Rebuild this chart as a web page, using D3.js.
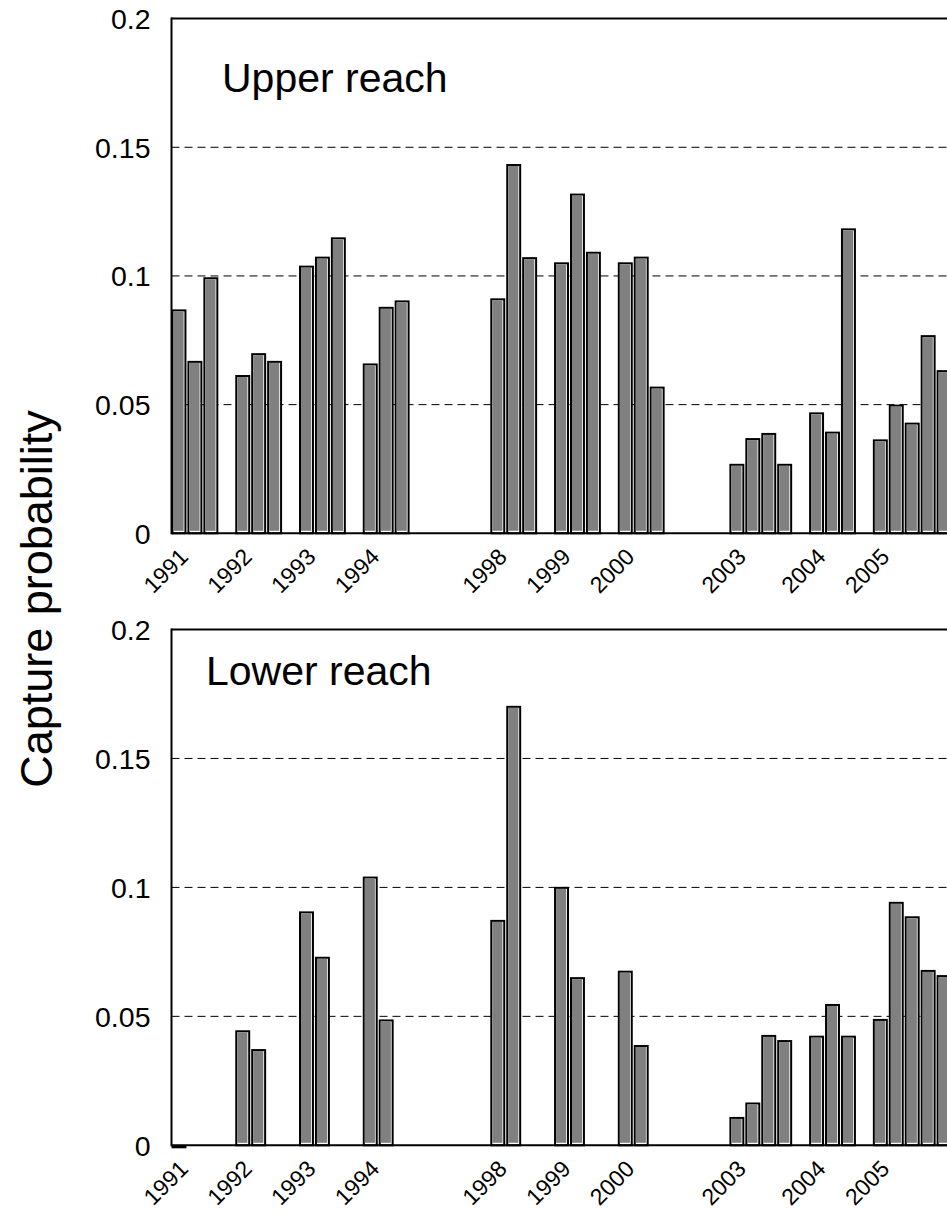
<!DOCTYPE html>
<html>
<head>
<meta charset="utf-8">
<script src="https://cdn.jsdelivr.net/npm/d3@7"></script>
<style>
  html, body { margin: 0; padding: 0; background: #fff; overflow: hidden; }
  svg { display: block; font-family: "Liberation Sans", Arial, sans-serif; }
</style>
</head>
<body>
<svg id="chart" width="947" height="1217"></svg>
<script>
// ---- data ----
const years = ["1991", "1992", "1993", "1994", "1998", "1999", "2000", "2003", "2004", "2005"];
// category index of the first sampling occasion of each year
const yearSlot = [0, 4, 8, 12, 20, 24, 28, 35, 40, 44];
const upperValues = [
  [0.087, 0.067, 0.0995],
  [0.0615, 0.070, 0.067],
  [0.104, 0.1075, 0.115],
  [0.066, 0.088, 0.0905],
  [0.0913, 0.1435, 0.1073],
  [0.1053, 0.132, 0.1094],
  [0.1053, 0.1075, 0.057],
  [0.027, 0.037, 0.039, 0.027],
  [0.047, 0.0395, 0.1185],
  [0.0365, 0.050, 0.043, 0.077, 0.0634]
];
const lowerValues = [
  [0],
  [0.0446, 0.0373],
  [0.0907, 0.0731],
  [0.1042, 0.0488],
  [0.0874, 0.1704],
  [0.1002, 0.0652],
  [0.0677, 0.0389],
  [0.011, 0.0166, 0.0428, 0.0408],
  [0.0425, 0.0548, 0.0425],
  [0.049, 0.0944, 0.0888, 0.068, 0.066]
];
const yTicks = [0, 0.05, 0.1, 0.15, 0.2];
const panelTitles = ["Upper reach", "Lower reach"];
const yTitle = "Capture probability";
const nSlots = 52;

// ---- layout ----
const svg = d3.select("#chart");
const left = 171.5;
const slotW = 15.94;
const x = d3.scaleBand().domain(d3.range(nSlots)).range([left, left + nSlots * slotW]).padding(0);

const panels = [
  { top: 18.6, bottom: 533.3, values: upperValues, title: panelTitles[0], tx: 222, ty: 92 },
  { top: 629.5, bottom: 1145.3, values: lowerValues, title: panelTitles[1], tx: 206, ty: 685 }
];

function flatten(vals) {
  const out = [];
  vals.forEach((arr, yi) => arr.forEach((v, k) => out.push({ slot: yearSlot[yi] + k, v })));
  return out;
}

panels.forEach((p, pi) => {
  const y = d3.scaleLinear().domain([0, 0.2]).range([p.bottom, p.top]);
  const g = svg.append("g");
  const right = x.range()[1];

  // gridlines
  g.selectAll("line.grid").data(yTicks.filter(t => t > 0 && t < 0.2)).join("line")
    .attr("x1", left).attr("x2", right)
    .attr("y1", d => y(d)).attr("y2", d => y(d))
    .attr("stroke", "#000").attr("stroke-width", 1)
    .attr("stroke-dasharray", "8,5");

  // top border
  g.append("line").attr("x1", left).attr("x2", right)
    .attr("y1", y(0.2)).attr("y2", y(0.2))
    .attr("stroke", "#000").attr("stroke-width", 2);

  // bars
  const bars = flatten(p.values);
  const bw = x.bandwidth();
  const bg = g.append("g");
  bars.forEach(d => {
    const x0 = x(d.slot);
    const yt = y(d.v);
    const yb = y(0);
    const h = Math.max(yb - yt - 1, 1);
    bg.append("rect")
      .attr("x", x0 + 1).attr("y", yt + 1)
      .attr("width", bw - 3).attr("height", h)
      .attr("fill", "#fff").attr("stroke", "#000").attr("stroke-width", 2);
    const ih = yb - yt - 4.5;
    if (ih > 0) {
      bg.append("rect")
        .attr("x", x0 + 2).attr("y", yt + 2)
        .attr("width", bw - 5.8).attr("height", ih)
        .attr("fill", "#808080");
    }
  });

  // left axis
  g.append("line").attr("x1", left).attr("x2", left)
    .attr("y1", y(0.2) - 1).attr("y2", y(0) + 1)
    .attr("stroke", "#000").attr("stroke-width", 2);
  // bottom axis
  g.append("line").attr("x1", left).attr("x2", right)
    .attr("y1", y(0)).attr("y2", y(0))
    .attr("stroke", "#000").attr("stroke-width", 2);

  // y tick labels
  g.selectAll("text.ytick").data(yTicks).join("text")
    .attr("x", left - 21).attr("y", d => y(d))
    .attr("dy", "0.36em")
    .attr("text-anchor", "end")
    .attr("font-size", 28.5)
    .text(d => d3.format("")(d));

  // x year labels
  g.selectAll("text.xtick").data(years).join("text")
    .attr("text-anchor", "end")
    .attr("font-size", 23)
    .attr("transform", (d, i) => {
      const cx = x(yearSlot[i]) + bw / 2 + 10;
      const cy = y(0) + 25;
      return `translate(${cx},${cy}) rotate(-45)`;
    })
    .text(d => d);

  // panel title
  g.append("text").attr("x", p.tx).attr("y", p.ty)
    .attr("font-size", 41).text(p.title);
});

// y-axis title
svg.append("text")
  .attr("transform", "translate(52,599) rotate(-90)")
  .attr("text-anchor", "middle")
  .attr("font-size", 45)
  .text(yTitle);
</script>
</body>
</html>
